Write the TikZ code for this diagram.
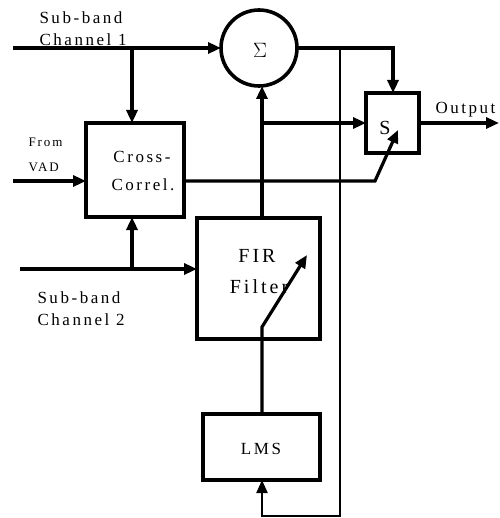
\documentclass[tikz,border=0pt]{standalone}
\usepackage{fontspec}
\setmainfont{Liberation Serif}
\newfontfamily\spacedfont[LetterSpace=15]{Liberation Serif}
\usetikzlibrary{arrows.meta}
\begin{document}
\begin{tikzpicture}[x=1pt,y=-1pt,
  line width=3pt,
  >={Triangle[length=13pt,width=11pt]},
  box/.style={draw, line width=3.2pt, inner sep=0pt, outer sep=0pt},
  lbl/.style={inner sep=0pt, font=\spacedfont\fontsize{17}{20}\selectfont},
  small/.style={inner sep=0pt, font=\spacedfont\fontsize{13}{15}\selectfont},
  big/.style={inner sep=0pt, font=\spacedfont\fontsize{20}{24}\selectfont},
  wire/.style={line width=3.2pt},
  fb/.style={line width=2.2pt}]
\path[use as bounding box] (0,0) rectangle (499,518);

% blocks
\node[box, circle, minimum size=76pt, line width=3.6pt] (sum) at (259,48) {};
\node[inner sep=0pt, font=\fontsize{22}{24}\selectfont] (sigma) at (260,50) {$\Sigma$};
\node[box, minimum width=98pt, minimum height=94pt] (cross) at (135,170) {};
\node[box, minimum width=53pt, minimum height=60pt] (sel) at (392.5,123) {};
\node[box, minimum width=123pt, minimum height=121pt] (fir) at (258.5,278.5) {};
\node[box, minimum width=117pt, minimum height=66pt] (lms) at (261.5,447) {};

% texts in blocks
\node[lbl, anchor=base] (crossA) at (142,163) {Cross-};
\node[lbl, anchor=base] (crossB) at (143,191) {Correl.};
\node[inner sep=0pt, font=\fontsize{20}{24}\selectfont, anchor=base] (stxt) at (385,135) {S};
\node[big, anchor=base] (firA) at (257,262) {FIR};
\node[big, anchor=base] (firB) at (259,293) {Filter};
\node[lbl, anchor=base] (lmstxt) at (261,454) {LMS};

% outer labels
\node[lbl, anchor=base west] (c1a) at (38,24) {Sub-band};
\node[lbl, anchor=base west] (c1b) at (38,46) {Channel 1};
\node[small, anchor=base west] (vada) at (27,147) {From};
\node[small, anchor=base west] (vadb) at (27,172) {VAD};
\node[lbl, anchor=base west] (outl) at (434,114) {Output};
\node[lbl, anchor=base west] (c2a) at (36,303) {Sub-band};
\node[lbl, anchor=base west] (c2b) at (36,325) {Channel 2};

% coordinates
\coordinate (in1) at (13,48);
\coordinate (j1) at (132,48);
\coordinate (invad) at (13,181);
\coordinate (in2) at (20,269);
\coordinate (j2) at (132,269);
\coordinate (fo) at (262,218);
\coordinate (j3) at (262,123);
\coordinate (so) at (393,48);
\coordinate (fbtop) at (340,48);
\coordinate (fbbot) at (340,516);
\coordinate (fbl) at (262,516);
\coordinate (ccout) at (184,181);
\coordinate (bend) at (375,181);
\coordinate (stip) at (398,130);
\coordinate (outend) at (499,123);
\coordinate (lmsbend) at (262,327);
\coordinate (firtip) at (307,255);

% connectors
\draw[wire,->] (in1) -- (sum);
\draw[wire,->] (j1) -- (j1 |- cross.north);
\draw[wire,->] (invad) -- (invad -| cross.west);
\draw[wire,->] (in2) -- (in2 -| fir.west);
\draw[wire,->] (j2) -- (j2 |- cross.south);
\draw[wire,->] (fo) -- (fo |- sum.south);
\draw[wire,->] (j3) -- (j3 -| sel.west);
\draw[wire,->] (sum.east) -- (so) -- (so |- sel.north);
\draw[fb,->] (fbtop) -- (fbbot) -- (fbl) -- (fbl |- lms.south);
\draw[wire,->] (ccout) -- (bend) -- (stip);
\draw[wire,->] (sel.east) -- (outend);
\draw[wire,->] (lms.north -| lmsbend) -- (lmsbend) -- (firtip);
\end{tikzpicture}
\end{document}
